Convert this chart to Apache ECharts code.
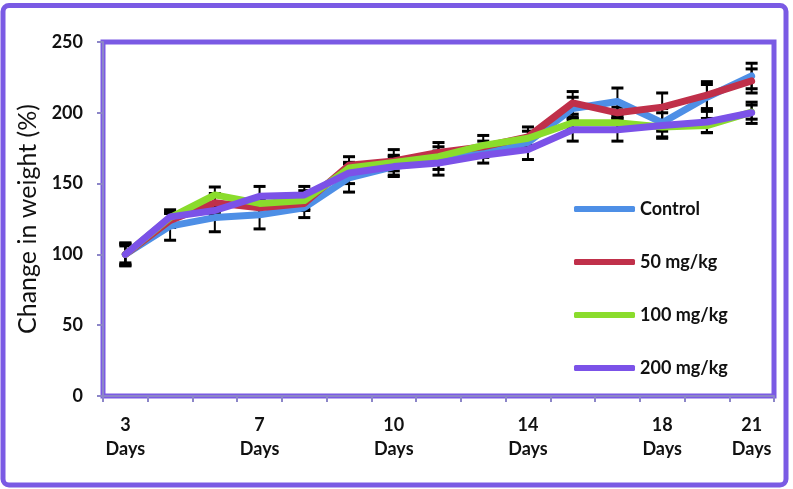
<!DOCTYPE html>
<html>
<head>
<meta charset="utf-8">
<script src="https://cdn.jsdelivr.net/npm/echarts@6/dist/echarts.min.js"></script>
<style>
html,body{margin:0;padding:0;background:#fff;}
#chart{width:793px;height:489px;}
</style>
</head>
<body>
<div id="chart"></div>
<script>
// Categories (time points); only some carry a day label
var categories = ['3','p1','p2','7','p3','p4','10','p5','p6','14','p7','p8','18','p9','21'];
var seriesNames = ['Control', '50 mg/kg', '100 mg/kg', '200 mg/kg'];

// Mean change in weight (%)
var control = [100, 120, 126, 128, 133, 154, 162, 166, 172.5, 179, 203, 208, 193, 211, 226];
var mg50    = [100, 124, 136.5, 133, 136, 163, 166, 172, 176, 183, 207, 200, 204, 212.5, 222.5];
var mg100   = [100, 126, 142, 136, 138, 161, 165, 169, 177, 182, 193, 193, 190, 191, 200.5];
var mg200   = [100, 126.5, 131, 141, 142, 157.5, 162, 164.5, 170, 174, 188, 188, 191, 193.5, 200];

// Error (± SE)
var controlErr = [8, 10, 10, 10, 7, 10, 7, 10, 4, 4, 8, 9.5, 10, 9, 9];
var mg50Err    = [7, 5, 6.5, 4, 4, 6, 4, 7, 4, 7, 8, 4, 10, 9.5, 8.5];
var mg100Err   = [6, 3, 5.6, 3, 7, 3, 9, 4, 7, 5, 4, 4, 3, 5, 5];
var mg200Err   = [8, 5, 3, 7, 6, 7.5, 3, 4.5, 5.5, 7, 8, 8, 9, 7.5, 7.5];

var colors = ['#4E8FE6', '#C0304A', '#8ADC2C', '#7B52E8'];
var frameColor = '#7A5AE4';
var axisGray = '#8C86C8';
var fontFam = 'Lato, "Open Sans", sans-serif';

var means = [control, mg50, mg100, mg200];
var errs = [controlErr, mg50Err, mg100Err, mg200Err];

function errData(m, e) {
  return m.map(function (v, i) { return [i, v - e[i], v + e[i]]; });
}

function renderErr(params, api) {
  var i = api.value(0);
  var lo = api.coord([i, api.value(1)]);
  var hi = api.coord([i, api.value(2)]);
  var hw = 6;
  var st = { stroke: '#000', lineWidth: 2 };
  var cs = { stroke: '#000', lineWidth: 3 };
  return {
    type: 'group',
    children: [
      { type: 'line', shape: { x1: hi[0], y1: hi[1], x2: lo[0], y2: lo[1] }, style: st },
      { type: 'line', shape: { x1: hi[0] - hw, y1: hi[1], x2: hi[0] + hw, y2: hi[1] }, style: cs },
      { type: 'line', shape: { x1: lo[0] - hw, y1: lo[1], x2: lo[0] + hw, y2: lo[1] }, style: cs }
    ]
  };
}

var series = [];
means.forEach(function (m, k) {
  series.push({
    name: seriesNames[k] + ' err',
    type: 'custom',
    renderItem: renderErr,
    data: errData(m, errs[k]),
    z: 1,
    silent: true,
    animation: false
  });
});
means.forEach(function (m, k) {
  series.push({
    name: seriesNames[k],
    type: 'line',
    data: m,
    symbol: 'none',
    color: colors[k],
    lineStyle: { width: 7, color: colors[k], cap: 'round', join: 'round' },
    z: 3 + k,
    animation: false
  });
});

var chart = echarts.init(document.getElementById('chart'), null, { renderer: 'canvas' });
chart.setOption({
  animation: false,
  backgroundColor: '#fff',
  graphic: [{
    type: 'rect',
    shape: { x: 3, y: 5.5, width: 783, height: 479.5, r: 6 },
    style: { fill: 'none', stroke: frameColor, lineWidth: 5 },
    z: 100
  }],
  grid: {
    left: 103, right: 19, top: 42, bottom: 93,
    show: true, borderColor: frameColor, borderWidth: 5, backgroundColor: 'transparent'
  },
  legend: {
    data: seriesNames,
    orient: 'vertical',
    left: 574,
    top: 199,
    padding: 0,
    itemWidth: 61,
    itemHeight: 6,
    itemGap: 33,
    icon: 'roundRect',
    textStyle: { fontFamily: fontFam, fontWeight: 'bold', fontSize: 18, color: '#111', lineHeight: 20 }
  },
  xAxis: {
    type: 'category',
    data: categories,
    boundaryGap: true,
    axisLine: { show: true, lineStyle: { color: axisGray, width: 2 } },
    axisTick: { show: true, interval: 0, length: 6, lineStyle: { color: axisGray, width: 2 } },
    axisLabel: {
      interval: 0,
      margin: 17,
      fontFamily: fontFam, fontWeight: 'bold', fontSize: 18, color: '#111', lineHeight: 24,
      formatter: function (v) { return /^\d+$/.test(v) ? v + '\nDays' : ''; }
    },
    splitLine: { show: false }
  },
  yAxis: {
    type: 'value',
    min: 0, max: 250, interval: 50,
    name: 'Change in weight (%)',
    nameLocation: 'middle',
    nameGap: 62,
    nameTextStyle: { fontFamily: fontFam, fontSize: 25, color: '#111' },
    axisLine: { show: true, lineStyle: { color: axisGray, width: 2 } },
    axisTick: { show: true, length: 6, lineStyle: { color: axisGray, width: 2 } },
    axisLabel: { margin: 20, fontFamily: fontFam, fontWeight: 'bold', fontSize: 18, color: '#111' },
    splitLine: { show: false }
  },
  series: series
});
</script>
</body>
</html>
